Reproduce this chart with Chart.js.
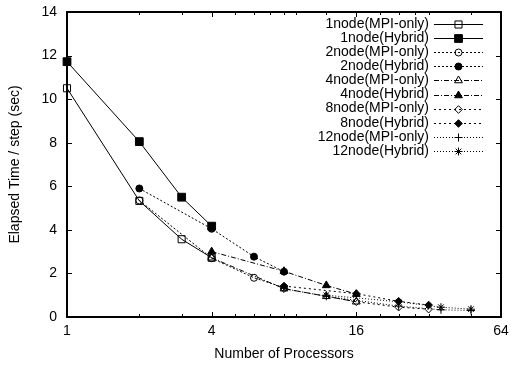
<!DOCTYPE html>
<html>
<head>
<meta charset="utf-8">
<script src="https://cdn.jsdelivr.net/npm/chart.js@4.4.1/dist/chart.umd.min.js"></script>
<style>
  html, body { margin: 0; padding: 0; background: #fff; }
  #wrap { width: 511px; height: 368px; }
</style>
</head>
<body>
<div id="wrap"><canvas id="chart"></canvas></div>
<script>
// processor counts used by each node configuration
const procs1 = [1, 2, 3, 4];
const procs2 = [2, 4, 6, 8];
const procs4 = [4, 8, 12, 16];
const procs8 = [8, 16, 24, 32];
const procs12 = [12, 24, 36, 48];

// elapsed time per step (sec)
const mpi1 = [10.5, 5.33, 3.57, 2.72];
const hybrid1 = [11.72, 8.05, 5.5, 4.17];
const mpi2 = [5.35, 2.7, 1.8, 1.35];
const hybrid2 = [5.9, 4.05, 2.77, 2.08];
const mpi4 = [2.72, 1.3, 0.95, 0.7];
const hybrid4 = [3.0, 2.1, 1.45, 1.05];
const mpi8 = [1.3, 0.7, 0.45, 0.36];
const hybrid8 = [1.42, 1.07, 0.72, 0.55];
const mpi12 = [0.95, 0.5, 0.33, 0.3];
const hybrid12 = [1.0, 0.7, 0.45, 0.36];

const xTicks = [1, 4, 16, 64];
const xMinorTicks = [2, 3, 5, 6, 7, 8, 9, 12, 20, 24, 28, 32, 48];
const yTicks = [0, 2, 4, 6, 8, 10, 12, 14];

const FONT = { family: "'Liberation Sans', Arial, sans-serif", size: 14 };
const CLEAR = "rgba(0,0,0,0)";

const pts = (xs, ys) => xs.map((x, i) => ({ x: x, y: ys[i] }));

const series = (label, xs, ys, style, radius, filled, dash) => ({
  label: label,
  data: pts(xs, ys),
  borderColor: "#000",
  borderWidth: 1,
  borderDash: dash,
  pointStyle: style,
  pointRadius: radius,
  pointHoverRadius: radius,
  pointBorderWidth: 1,
  pointBorderColor: "#000",
  pointBackgroundColor: filled ? "#000" : CLEAR,
  tension: 0,
  clip: false,
});

const datasets = [
  series("1node(MPI-only)", procs1, mpi1, "rect", 5, false, []),
  series("1node(Hybrid)", procs1, hybrid1, "rect", 5.5, true, []),
  series("2node(MPI-only)", procs2, mpi2, "circle", 3.5, false, [2, 2]),
  series("2node(Hybrid)", procs2, hybrid2, "circle", 3.5, true, [2, 2]),
  series("4node(MPI-only)", procs4, mpi4, "triangle", 4.5, false, [5, 2, 1, 2]),
  series("4node(Hybrid)", procs4, hybrid4, "triangle", 4.5, true, [5, 2, 1, 2]),
  series("8node(MPI-only)", procs8, mpi8, "rectRot", 3.8, false, [2, 3]),
  series("8node(Hybrid)", procs8, hybrid8, "rectRot", 3.8, true, [2, 3]),
  series("12node(MPI-only)", procs12, mpi12, "cross", 4, false, [1, 2]),
  series("12node(Hybrid)", procs12, hybrid12, "star", 4, true, [1, 2]),
];

// gnuplot style border with inward ticks on all four sides
const framePlugin = {
  id: "frame",
  beforeDatasetsDraw(chart) {
    const { ctx, chartArea: a, scales } = chart;
    ctx.save();
    ctx.strokeStyle = "#000";
    ctx.lineWidth = 1;
    ctx.beginPath();
    yTicks.forEach((v) => {
      const py = Math.round(scales.y.getPixelForValue(v)) + 0.5;
      ctx.moveTo(a.left, py); ctx.lineTo(a.left + 5, py);
      ctx.moveTo(a.right, py); ctx.lineTo(a.right - 5, py);
    });
    xTicks.forEach((v) => {
      const px = Math.round(scales.x.getPixelForValue(v)) + 0.5;
      ctx.moveTo(px, a.bottom); ctx.lineTo(px, a.bottom - 5);
      ctx.moveTo(px, a.top); ctx.lineTo(px, a.top + 5);
    });
    xMinorTicks.forEach((v) => {
      const px = Math.round(scales.x.getPixelForValue(v)) + 0.5;
      ctx.moveTo(px, a.bottom); ctx.lineTo(px, a.bottom - 3);
      ctx.moveTo(px, a.top); ctx.lineTo(px, a.top + 3);
    });
    ctx.stroke();
    ctx.lineWidth = 2;
    ctx.strokeRect(a.left, a.top, a.right - a.left, a.bottom - a.top);
    ctx.restore();
  },
};

// legend in the upper right: right aligned text, then line sample with marker
const keyPlugin = {
  id: "key",
  afterDraw(chart) {
    const { ctx } = chart;
    const textRight = 429, lineStart = 434, lineEnd = 483, markX = 458.5;
    ctx.save();
    ctx.font = FONT.size + "px " + FONT.family;
    ctx.textAlign = "right";
    ctx.textBaseline = "middle";
    chart.data.datasets.forEach((ds, i) => {
      const y = 24 + i * 14.1;
      ctx.fillStyle = "#000";
      ctx.fillText(ds.label, textRight, y);
      ctx.strokeStyle = "#000";
      ctx.lineWidth = 1;
      ctx.setLineDash(ds.borderDash || []);
      ctx.beginPath();
      ctx.moveTo(lineStart, Math.round(y) + 0.5);
      ctx.lineTo(lineEnd, Math.round(y) + 0.5);
      ctx.stroke();
      ctx.setLineDash([]);
      ctx.fillStyle = ds.pointBackgroundColor;
      Chart.helpers.drawPoint(ctx, {
        pointStyle: ds.pointStyle,
        radius: ds.pointRadius,
        rotation: 0,
        borderWidth: 1,
      }, markX, Math.round(y) + 0.5);
    });
    ctx.restore();
  },
};

new Chart(document.getElementById("chart"), {
  type: "line",
  data: { datasets: datasets },
  options: {
    responsive: true,
    maintainAspectRatio: false,
    animation: false,
    layout: { padding: { top: 12, right: 10, left: 0, bottom: 0 } },
    plugins: {
      legend: { display: false },
      tooltip: { enabled: false },
    },
    scales: {
      x: {
        type: "logarithmic",
        min: 1,
        max: 64,
        grid: { display: false, drawTicks: false },
        border: { display: false },
        afterBuildTicks: (scale) => {
          scale.ticks = xTicks.map((v) => ({ value: v }));
        },
        afterFit: (scale) => {
          scale.height = 51;
          scale.paddingLeft = 0;
          scale.paddingRight = 0;
        },
        ticks: {
          autoSkip: false,
          maxRotation: 0,
          padding: 6,
          color: "#000",
          font: FONT,
          callback: (v) => String(v),
        },
        title: {
          display: true,
          text: "Number of Processors",
          color: "#000",
          font: FONT,
          padding: { top: 0, bottom: 5 },
        },
      },
      y: {
        type: "linear",
        min: 0,
        max: 14,
        grid: { display: false, drawTicks: false },
        border: { display: false },
        afterBuildTicks: (scale) => {
          scale.ticks = yTicks.map((v) => ({ value: v }));
        },
        afterFit: (scale) => {
          scale.width = 67;
          scale.paddingTop = 0;
          scale.paddingBottom = 0;
        },
        ticks: {
          padding: 10,
          color: "#000",
          font: FONT,
        },
        title: {
          display: true,
          text: "Elapsed Time / step (sec)",
          color: "#000",
          font: FONT,
          padding: { top: 7, bottom: 0 },
        },
      },
    },
  },
  plugins: [framePlugin, keyPlugin],
});
</script>
</body>
</html>
